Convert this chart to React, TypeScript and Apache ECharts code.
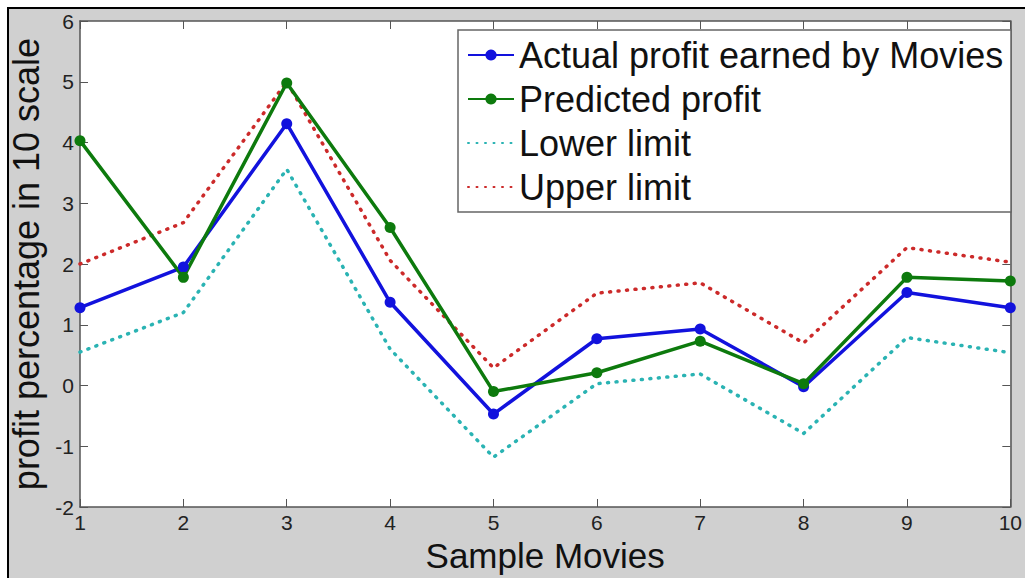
import React, { useEffect, useRef } from "react";
import * as echarts from "echarts";

const movies = [1, 2, 3, 4, 5, 6, 7, 8, 9, 10];
const actualProfit = [1.28, 1.95, 4.31, 1.37, -0.47, 0.77, 0.93, -0.02, 1.53, 1.28];
const predictedProfit = [4.03, 1.78, 4.98, 2.6, -0.1, 0.21, 0.73, 0.03, 1.78, 1.72];
const lowerLimit = [0.55, 1.2, 3.56, 0.6, -1.18, 0.03, 0.19, -0.79, 0.79, 0.54];
const upperLimit = [2.0, 2.68, 5.0, 2.06, 0.29, 1.52, 1.69, 0.7, 2.27, 2.03];

const pairs = (ys: number[]) => movies.map((m, i) => [m, ys[i]]);

const FONT = "'Liberation Sans', Arial, sans-serif";
const AXIS_COLOR = "#555555";
const DOTS = [1, 7.5];

export default function App() {
  const ref = useRef<HTMLDivElement>(null);
  useEffect(() => {
    if (!ref.current) return;
    const chart = echarts.init(ref.current, null, { renderer: "svg" });
    const tickLabel = { fontFamily: FONT, fontSize: 21, color: "#222222" };
    const hidden = { color: "rgba(0,0,0,0)", borderWidth: 0 };
    chart.setOption({
      animation: false,
      backgroundColor: "#ffffff",
      textStyle: { fontFamily: FONT },
      graphic: [
        {
          type: "rect",
          z: -10,
          shape: { x: 8, y: 8, width: 1100, height: 700 },
          style: { fill: "#d0d0d0", stroke: "#000000", lineWidth: 2 },
        },
        {
          type: "rect",
          z: 5,
          shape: { x: 458, y: 30, width: 553, height: 182 },
          style: { fill: "#ffffff", stroke: "#666666", lineWidth: 1.5 },
        },
      ],
      grid: {
        left: 80,
        top: 21,
        width: 938,
        height: 486,
        show: true,
        backgroundColor: "#ffffff",
        borderWidth: 0,
      },
      legend: {
        data: [
          { name: "Actual profit earned by Movies" },
          { name: "Predicted profit" },
          { name: "Lower limit", itemStyle: hidden },
          { name: "Upper limit", itemStyle: hidden },
        ],
        orient: "vertical",
        left: 467,
        top: 37,
        padding: 0,
        itemWidth: 46,
        itemHeight: 14,
        itemGap: 8,
        z: 10,
        textStyle: {
          fontFamily: FONT,
          fontSize: 36,
          lineHeight: 33,
          color: "#111111",
        },
      },
      xAxis: [
        {
          type: "value",
          min: 1,
          max: 10,
          interval: 1,
          position: "bottom",
          name: "Sample Movies",
          nameLocation: "middle",
          nameGap: 27,
          nameTextStyle: { fontFamily: FONT, fontSize: 35, color: "#111111" },
          axisLine: { show: true, onZero: false, lineStyle: { color: AXIS_COLOR, width: 1.5 } },
          axisTick: { show: true, inside: true, length: 8, lineStyle: { color: AXIS_COLOR } },
          axisLabel: { ...tickLabel, margin: 5 },
          splitLine: { show: false },
        },
        {
          type: "value",
          min: 1,
          max: 10,
          interval: 1,
          position: "top",
          axisLine: { show: true, onZero: false, lineStyle: { color: AXIS_COLOR, width: 1.5 } },
          axisTick: { show: true, inside: true, length: 8, lineStyle: { color: AXIS_COLOR } },
          axisLabel: { show: false },
          splitLine: { show: false },
        },
      ],
      yAxis: [
        {
          type: "value",
          min: -2,
          max: 6,
          interval: 1,
          position: "left",
          name: "profit percentage in 10 scale",
          nameLocation: "middle",
          nameGap: 20,
          nameTextStyle: { fontFamily: FONT, fontSize: 36, color: "#111111" },
          axisLine: { show: true, onZero: false, lineStyle: { color: AXIS_COLOR, width: 1.5 } },
          axisTick: { show: true, inside: true, length: 8, lineStyle: { color: AXIS_COLOR } },
          axisLabel: { ...tickLabel, margin: 6 },
          splitLine: { show: false },
        },
        {
          type: "value",
          min: -2,
          max: 6,
          interval: 1,
          position: "right",
          axisLine: { show: true, onZero: false, lineStyle: { color: AXIS_COLOR, width: 1.5 } },
          axisTick: { show: true, inside: true, length: 8, lineStyle: { color: AXIS_COLOR } },
          axisLabel: { show: false },
          splitLine: { show: false },
        },
      ],
      series: [
        {
          name: "Lower limit",
          type: "line",
          data: pairs(lowerLimit),
          symbol: "none",
          clip: false,
          color: "#2ab3b3",
          lineStyle: { color: "#2ab3b3", width: 3.5, type: DOTS, cap: "round" },
        },
        {
          name: "Upper limit",
          type: "line",
          data: pairs(upperLimit),
          symbol: "none",
          clip: false,
          color: "#cc2a2a",
          lineStyle: { color: "#cc2a2a", width: 3.5, type: DOTS, cap: "round" },
        },
        {
          name: "Actual profit earned by Movies",
          type: "line",
          data: pairs(actualProfit),
          symbol: "circle",
          symbolSize: 11,
          clip: false,
          color: "#1212dd",
          lineStyle: { color: "#1212dd", width: 3.5 },
          itemStyle: { color: "#1212dd" },
        },
        {
          name: "Predicted profit",
          type: "line",
          data: pairs(predictedProfit),
          symbol: "circle",
          symbolSize: 11,
          clip: false,
          color: "#0d7a0d",
          lineStyle: { color: "#0d7a0d", width: 3.5 },
          itemStyle: { color: "#0d7a0d" },
        },
      ],
    });
    return () => chart.dispose();
  }, []);
  return (
    <div
      ref={ref}
      style={{ position: "fixed", left: 0, top: 0, width: 1025, height: 578 }}
    />
  );
}
